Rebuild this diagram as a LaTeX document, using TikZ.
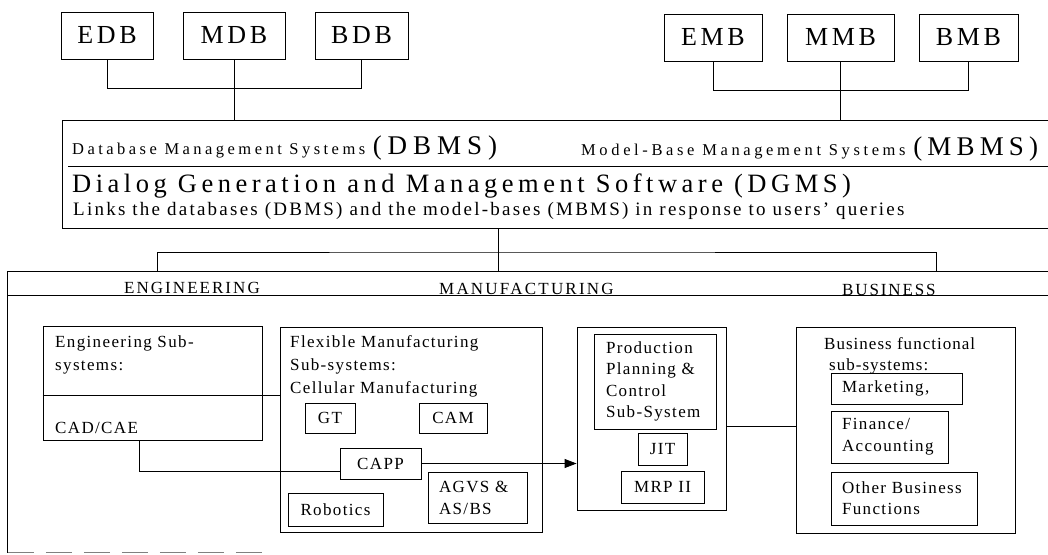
\documentclass[tikz,border=0pt]{standalone}
\usepackage{fontspec}
\setmainfont{Liberation Serif}
\usetikzlibrary{arrows.meta,positioning}
\hyphenpenalty=10000
\exhyphenpenalty=10000
\newcommand\fs[3]{\fontsize{#1}{#2}\selectfont\addfontfeature{LetterSpace=#3}}
\tikzset{
  unit/.style={draw, inner sep=0pt, line width=0.9pt, font={\fs{17}{22}{8}}},
  dbbox/.style={unit, minimum height=47pt, font={\fs{26}{30}{14}}},
  lbox/.style={unit, align=left, inner xsep=11pt},
  tag/.style={inner sep=0pt, anchor=base west, font={\fs{17}{23}{8}}},
  wire/.style={line width=0.9pt}
}

\begin{document}
\begin{tikzpicture}[x=1pt,y=-1pt]
\useasboundingbox (0,0) rectangle (1048,554);
% data bases and model bases
\foreach \nm/\x/\y/\w/\t in {edb/107/35.5/92/EDB, mdb/234/35.5/102/MDB, bdb/361.5/35.5/93/BDB, emb/713/37.5/98/EMB, mmb/840.5/37.5/107/MMB, bmb/968.5/37.5/99/BMB}
  \node[dbbox, minimum width=\w pt] (\nm) at (\x,\y) {\t};
% management systems and dialog software
\node[unit, minimum width=998pt, minimum height=108pt] (dgms) at (561,174) {};
\draw[wire] (68,166) -- (1060,166);
\node[tag, font={\fs{16.5}{20}{21}}] (dbms) at (72,154.5) {Database Management Systems \fs{27}{30}{22}(DBMS)};
\node[tag, font={\fs{16.5}{20}{22}}] (mbms) at (581,155) {Model-Base Management Systems \fs{27}{30}{19}(MBMS)};
\node[tag, font={\fs{26.5}{30}{17}}] (dialog) at (72,192) {Dialog Generation and Management Software (DGMS)};
\node[tag, font={\fs{19}{22}{11.8}}] (links) at (73,215) {Links the databases (DBMS) and the model-bases (MBMS) in response to users’ queries};
\draw[wire] (edb.south) -- ++(0,29) -| (bdb.south);
\draw[wire] (mdb.south) -- (mdb.south |- dgms.north);
\draw[wire] (emb.south) -- ++(0,29) -| (bmb.south);
\draw[wire] (mmb.south) -- (mmb.south |- dgms.north);
% functional areas frame
\node[minimum width=1052pt, minimum height=280.5pt, inner sep=0pt] (frame) at (534,412.25) {};
\draw[wire] (frame.north east) -| (frame.south west);
\draw[wire, gray, dash pattern=on 26pt off 12pt] (frame.south west) -- ++(262,0);
\draw[wire] (frame.west |- 0,295) -- (frame.east |- 0,295);
\node[tag, font={\fs{17}{22}{12}}] (engtitle) at (124,293.5) {ENGINEERING};
\node[tag, font={\fs{17}{22}{13}}] (mfgtitle) at (439,294) {MANUFACTURING};
\node[tag, font={\fs{17}{22}{11}}] (bustitle) at (842,295) {BUSINESS};
\coordinate (tap) at (498,252);
\draw[wire] (dgms.south -| tap) -- (frame.north -| tap);
\draw[wire] (frame.north -| 157,0) |- (tap) -| (frame.north -| 936,0);
% engineering
\node[unit, minimum width=219pt, minimum height=114pt] (engsub) at (152.5,383) {};
\node[tag, align=left] (engtext) at (55,370) {Engineering Sub-\\systems:};
\node[tag] (cad) at (55,433) {CAD/CAE};
% flexible manufacturing
\node[unit, minimum width=262pt, minimum height=205pt] (flex) at (411,429.5) {};
\node[tag, align=left] (flextext) at (290,393) {Flexible Manufacturing\\Sub-systems:\\Cellular Manufacturing};
\foreach \nm/\x/\y/\w/\h/\t in {gt/330/418/50/30/GT, cam/453/418/68/30/CAM, capp/380.5/463.5/81/31/CAPP, robo/335.5/509.5/95/33/Robotics, jit/662.5/449/49/32/JIT, mrp/662.5/487/83/32/MRP II}
  \node[unit, minimum width=\w pt, minimum height=\h pt] (\nm) at (\x,\y) {\t};
\node[lbox, minimum width=99pt, minimum height=51pt, text width=77pt] (agvs) at (477.5,497.5) {AGVS \&\\AS/BS};
% production planning
\node[unit, minimum width=149pt, minimum height=183pt] (prod) at (651.5,418.5) {};
\node[lbox, inner xsep=12pt, minimum width=122pt, minimum height=95pt, text width=98pt, font={\fs{17}{21.3}{8}}] (ppc) at (655,381.5) {Production\\Planning \&\\Control\\Sub-System};
% business
\node[unit, minimum width=219pt, minimum height=206pt] (biz) at (905.5,430) {};
\node[tag, align=left, font={\fs{17}{21}{6}}] (biztext) at (824,370) {Business functional\\\hspace*{5pt}sub-systems:};
\node[lbox, minimum width=131pt, minimum height=31pt, text width=109pt] (mkt) at (896.5,388.5) {Marketing,};
\node[lbox, minimum width=117pt, minimum height=52pt, text width=95pt] (fin) at (889.5,437) {Finance/\\Accounting};
\node[lbox, minimum width=146pt, minimum height=53pt, text width=124pt, font={\fs{17}{21}{8}}] (other) at (904,498.5) {Other Business\\Functions};
% links between sub-systems
\draw[wire] (engsub.west |- 0,395) -- (flex.west |- 0,395);
\draw[wire] ([xshift=-13.5pt]engsub.south) |- ([yshift=-7.5pt]capp.west);
\draw[wire, -{Triangle[length=12pt,width=9pt]}] (capp.east) -- (capp.east -| prod.west);
\draw[wire] ([yshift=-7.5pt]prod.east) -- ([yshift=-7.5pt]prod.east -| biz.west);
\end{tikzpicture}
\end{document}
